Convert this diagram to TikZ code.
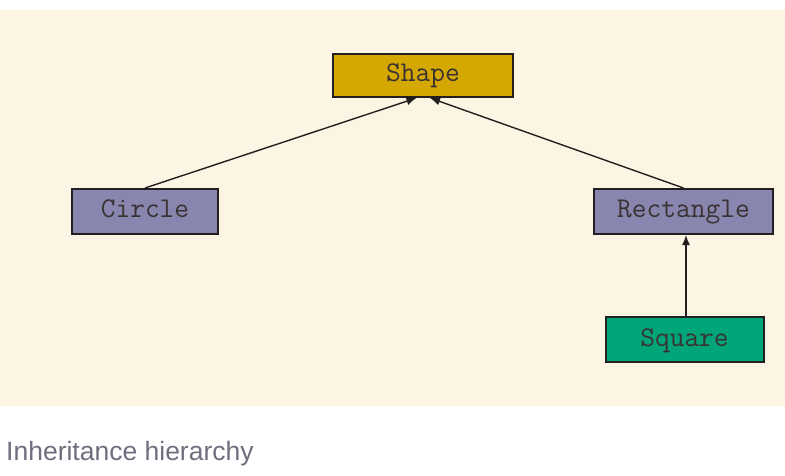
\documentclass[tikz,border=0pt]{standalone}
\usepackage{fontspec}
\newfontfamily\capfont{Liberation Sans}
\usetikzlibrary{arrows.meta}
\definecolor{bgbeige}{HTML}{FDF5E4}
\definecolor{goldfill}{HTML}{D4A800}
\definecolor{purplefill}{HTML}{8886AE}
\definecolor{greenfill}{HTML}{00A57A}
\definecolor{edgecol}{HTML}{231F20}
\definecolor{txtcol}{HTML}{3A3232}
\definecolor{capcol}{HTML}{6E6E7E}
\tikzset{
  classbox/.style={draw=edgecol, line width=2pt, inner sep=0pt, minimum height=45pt,
    text height=18.5pt, text depth=5.5pt,
    text=txtcol, font=\fontsize{28.6}{30}\selectfont\ttfamily},
  inh/.style={draw=edgecol, line width=1.4pt, -{Latex[length=10pt,width=8pt]}}
}
\begin{document}
\begin{tikzpicture}[x=1pt,y=-1pt]
\useasboundingbox (0,0) rectangle (785,476);
\fill[bgbeige] (0,10) rectangle (785,405.5);
\node[classbox, fill=goldfill, minimum width=180pt, minimum height=43pt] (shape) at (423,75.5) {Shape};
\node[classbox, fill=purplefill, minimum width=146pt] (circle) at (145,211.5) {Circle};
\node[classbox, fill=purplefill, minimum width=179pt] (rect) at (683.5,211.5) {Rectangle};
\node[classbox, fill=greenfill, minimum width=158pt] (square) at (684.5,339.5) {Square};
\draw[inh] (circle.north) -- ([xshift=-6.5pt]shape.south);
\draw[inh] (rect.north) -- ([xshift=7pt]shape.south);
\draw[inh] ([xshift=1.5pt]square.north) -- ([xshift=1.5pt]square.north |- rect.south);
\node[anchor=base west, inner sep=0pt, text=capcol, font=\fontsize{26.5}{30}\selectfont\capfont] (caption) at (6,460) {Inheritance hierarchy};
\end{tikzpicture}
\end{document}
